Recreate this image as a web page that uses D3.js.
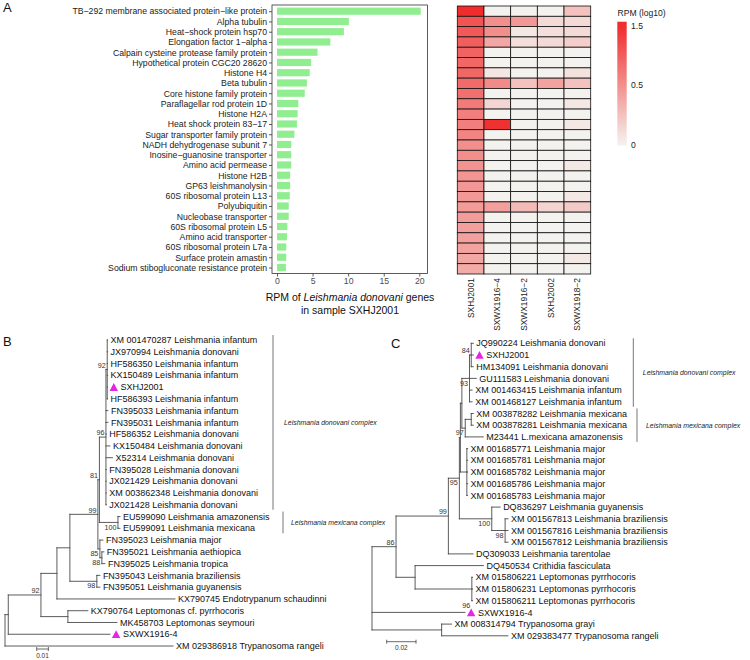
<!DOCTYPE html>
<html><head><meta charset="utf-8">
<script src="https://cdn.jsdelivr.net/npm/d3@7"></script>
<style>
body{margin:0;background:#fff;}
svg{display:block;font-family:"Liberation Sans",Arial,sans-serif;}
</style>
</head><body>
<svg id="fig" width="750" height="660"></svg>
<script>
// ---------------- DATA ----------------
const genes = ["TB−292 membrane associated protein−like protein","Alpha tubulin","Heat−shock protein hsp70","Elongation factor 1−alpha","Calpain cysteine protease family protein","Hypothetical protein CGC20 28620","Histone H4","Beta tubulin","Core histone family protein","Paraflagellar rod protein 1D","Histone H2A","Heat shock protein 83−17","Sugar transporter family protein","NADH dehydrogenase subunit 7","Inosine−guanosine transporter","Amino acid permease","Histone H2B","GP63 leishmanolysin","60S ribosomal protein L13","Polyubiquitin","Nucleobase transporter","60S ribosomal protein L5","Amino acid transporter","60S ribosomal protein L7a","Surface protein amastin","Sodium stibogluconate resistance protein"];
const rpm = [20.2,10.1,9.4,7.5,5.7,4.8,4.6,4.2,3.9,3.0,2.9,2.8,2.45,2.0,2.0,2.0,1.85,1.85,1.8,1.65,1.65,1.45,1.4,1.3,1.3,1.25];
const xTicks = [0,5,10,15,20];
const samples = ["SXHJ2001","SXWX1916−4","SXWX1916−2","SXHJ2002","SXWX1918−2"];
const heatSXHJ2001  = [1.5,1.1,1.06,1.0,0.94,0.9,0.9,0.86,0.82,0.7,0.66,0.66,0.6,0.5,0.5,0.48,0.47,0.46,0.45,0.44,0.43,0.42,0.41,0.4,0.38,0.36];
const heatSXWX19164 = [0,0.5,0.5,0.38,0,0,0.06,0.55,0,0.14,0,1.45,0,0,0,0,0,0,0,0.42,0,0,0,0,0,0];
const heatSXWX19162 = [0,0.45,0.05,0.1,0,0,0,0.25,0,0,0,0,0,0,0,0,0,0,0,0.28,0,0,0,0,0,0];
const heatSXHJ2002  = [0,0.12,0.1,0.12,0,0,0,0.4,0,0,0,0,0,0,0,0,0,0,0,0.15,0,0,0,0,0,0];
const heatSXWX19182 = [0.25,0.12,0.12,0.18,0,0,0.08,0.25,0,0.05,0,0.05,0,0,0,0.05,0,0,0.05,0.2,0,0,0,0,0.05,0];
const legendTicks = [0,0.5,1.5];

// Tree B (newick pieces, branch lengths in substitutions/site)
const nB92i = "(XM_001470287_Leishmania_infantum:0.0003,JX970994_Leishmania_donovani:0.0003,HF586350_Leishmania_infantum:0.0003,KX150489_Leishmania_infantum:0.0003,SXHJ2001:0.0003,HF586393_Leishmania_infantum:0.0003)92:0.0011";
const nB96 = `(${nB92i},FN395033_Leishmania_infantum:0.0017,FN395031_Leishmania_infantum:0.0017,HF586352_Leishmania_donovani:0.0003,KX150484_Leishmania_donovani:0.0034,X52314_Leishmania_donovani:0.0056,FN395028_Leishmania_donovani:0.0003,JX021429_Leishmania_donovani:0.0003,XM_003862348_Leishmania_donovani:0.0003,JX021428_Leishmania_donovani:0.0003)96:0.0056`;
const nB81 = `(${nB96},(EU599090_Leishmania_amazonensis:0.0017,EU599091_Leishmania_mexicana:0.0017)100:0.0159)81:0.0013`;
const nB99 = `(${nB81},(FN395023_Leishmania_major:0.0026,(FN395021_Leishmania_aethiopica:0.0017,FN395025_Leishmania_tropica:0.0026)88:0.0017)85:0.0017)99:0.024`;
const nB70 = `(${nB99},(FN395043_Leishmania_braziliensis:0.0026,FN395051_Leishmania_guyanensis:0.0026)98:0.0231):0.0111`;
const nBb = `(${nB70},KX790745_Endotrypanum_schaudinni:0.1011):0.0137`;
const nB92o = `(${nBb},(KX790764_Leptomonas_cf._pyrrhocoris:0.0171,MK458703_Leptomonas_seymouri:0.042):0.0231)92:0.028`;
const treeB = `((${nB92o},SXWX1916-4:0.0871):0.0028,XM_029386918_Trypanosoma_rangeli:0.144)`;

// Tree C
const nC84 = "(JQ990224_Leishmania_donovani:0.0014,SXHJ2001:0.0014,HM134091_Leishmania_donovani:0.0014)84:0.0012";
const nC93 = `(${nC84},GU111583_Leishmania_donovani:0.0046,XM_001463415_Leishmania_infantum:0.0018,XM_001468127_Leishmania_infantum:0.0018)93:0.0052`;
const nC97 = "((XM_003878282_Leishmania_mexicana:0.0014,XM_003878281_Leishmania_mexicana:0.0014):0.0041,M23441_L.mexicana_amazonensis:0.0123)97:0.0023";
const nCmaj = "(XM_001685771_Leishmania_major:0.0005,XM_001685781_Leishmania_major:0.0005,XM_001685782_Leishmania_major:0.0005,XM_001685786_Leishmania_major:0.0005,XM_001685783_Leishmania_major:0.0005):0.0044";
const nC100 = "(DQ836297_Leishmania_guyanensis:0.0057,(XM_001567813_Leishmania_braziliensis:0.002,XM_001567816_Leishmania_braziliensis:0.002,XM_001567812_Leishmania_braziliensis:0.002)98:0.0091)100:0.0221";
const nC95 = `(((${nC93},${nC97}):0.001,${nCmaj}):0.0007,${nC100})95:0.0075`;
const nC99 = `(${nC95},DQ309033_Leishmania_tarentolae:0.0168)99:0.0357`;
const nC86 = `(${nC99},(DQ450534_Crithidia_fasciculata:0.0466,(XM_015806221_Leptomonas_pyrrhocoris:0.0005,XM_015806231_Leptomonas_pyrrhocoris:0.0005,XM_015806211_Leptomonas_pyrrhocoris:0.0005)96:0.0387):0.013)86:0.0164`;
const treeC = `(${nC86},SXWX1916-4:0.0634,(XM_008314794_Trypanosoma_grayi:0.0068,XM_029383477_Trypanosoma_rangeli:0.0452):0.0475)`;

const markedLeaves = ["SXHJ2001","SXWX1916-4"];
const cladesB = [{first:0,last:14,label:"Leishmania donovani complex"},{first:15,last:16,label:"Leishmania mexicana complex"}];
const cladesC = [{first:0,last:5,label:"Leishmania donovani complex"},{first:6,last:8,label:"Leishmania mexicana complex"}];
const scaleBarB = 0.01, scaleBarC = 0.02;

// ---------------- DRAW ----------------
const svg = d3.select("#fig");
const ink = "#333", txt = "#4d4d4d";

function panelLetter(t,x,y){ svg.append("text").attr("x",x).attr("y",y).attr("font-size",13).attr("fill","#111").text(t); }
panelLetter("A",3,12); panelLetter("B",3,345.5); panelLetter("C",391,348);

// ---- Bar chart ----
const gA = svg.append("g");
const yBar = d3.scalePoint().domain(genes).range([11.2,267.5]);
const xBar = d3.scaleLinear().domain([0,20]).range([277,419.3]);
const frame = {x0:272,x1:427.5,y0:5,y1:273.5};
gA.selectAll("rect.bar").data(genes).join("rect").attr("class","bar")
  .attr("x",xBar(0)).attr("y",d=>yBar(d)-3.6).attr("height",7.2)
  .attr("width",(d,i)=>xBar(rpm[i])-xBar(0)).attr("fill","#90EE90");
gA.append("rect").attr("x",frame.x0).attr("y",frame.y0).attr("width",frame.x1-frame.x0).attr("height",frame.y1-frame.y0)
  .attr("fill","none").attr("stroke",ink).attr("stroke-width",0.8);
const yAx = gA.append("g").attr("transform",`translate(${frame.x0},0)`).call(d3.axisLeft(yBar).tickSize(3).tickPadding(2));
const xAx = gA.append("g").attr("transform",`translate(0,${frame.y1})`).call(d3.axisBottom(xBar).tickValues(xTicks).tickSize(3).tickPadding(1.5));
[yAx,xAx].forEach(a=>{a.select(".domain").remove(); a.selectAll("line").attr("stroke",ink).attr("stroke-width",0.8);
  a.selectAll("text").attr("font-size",8.7).attr("fill",txt).attr("font-family","Liberation Sans, Arial, sans-serif");});
yAx.selectAll("text").attr("fill","#222");
const title = gA.append("text").attr("x",350).attr("y",301).attr("text-anchor","middle").attr("font-size",10.5).attr("fill","#111");
title.append("tspan").text("RPM of ");
title.append("tspan").attr("font-style","italic").text("Leishmania donovani");
title.append("tspan").text(" genes");
gA.append("text").attr("x",350).attr("y",314).attr("text-anchor","middle").attr("font-size",10.5).attr("fill","#111").text("in sample SXHJ2001");

// ---- Heatmap ----
const heatCols = [heatSXHJ2001,heatSXWX19164,heatSXWX19162,heatSXHJ2002,heatSXWX19182];
const xHeat = d3.scaleBand().domain(samples).range([457.3,590.7]);
const yHeat = d3.scaleBand().domain(genes).range([6,274]);
const lowC = "#F4F2EE", highC = "#F02C2C";
const tScale = d3.scaleLinear().domain([0,0.5,1.5]).range([0,0.5,1]).clamp(true);
const heatColor = v => d3.interpolateRgb(lowC,highC)(tScale(v));
const cells = [];
samples.forEach((s,j)=>genes.forEach((g,i)=>cells.push({s,g,v:heatCols[j][i]})));
svg.append("g").selectAll("rect").data(cells).join("rect")
  .attr("x",d=>xHeat(d.s)).attr("y",d=>yHeat(d.g)).attr("width",xHeat.bandwidth()).attr("height",yHeat.bandwidth())
  .attr("fill",d=>heatColor(d.v)).attr("stroke","#111").attr("stroke-width",0.8);
svg.append("g").selectAll("text").data(samples).join("text")
  .attr("transform",d=>`translate(${xHeat(d)+xHeat.bandwidth()/2+3},278) rotate(-90)`)
  .attr("text-anchor","end").attr("font-size",8.4).attr("fill","#222").text(d=>d);

// legend
const yLeg = d3.scaleLinear().domain([0,0.5,1.5]).range([144.5,85,25.5]);
const legTop = 21.7, legBot = 145.5;
const grad = svg.append("defs").append("linearGradient").attr("id","lg").attr("x1",0).attr("y1",1).attr("x2",0).attr("y2",0);
d3.range(0,1.0001,0.05).forEach(f=>{ const y = legBot - f*(legBot-legTop);
  grad.append("stop").attr("offset",f).attr("stop-color",heatColor(Math.max(0,yLeg.invert(y)))); });
svg.append("text").attr("x",617.5).attr("y",16).attr("font-size",8.6).attr("fill","#222").text("RPM (log10)");
svg.append("rect").attr("x",617.3).attr("y",legTop).attr("width",9.4).attr("height",legBot-legTop).attr("fill","url(#lg)");
svg.append("g").selectAll("text").data(legendTicks).join("text").attr("x",631).attr("y",d=>yLeg(d)).attr("dy","0.35em")
  .attr("font-size",8.6).attr("fill","#222").text(d=>d);

// ---- Trees ----
function parseNewick(s){
  let i=0;
  function node(){
    const n={children:[]};
    if(s[i]==='('){ i++; n.children.push(node()); while(s[i]===','){ i++; n.children.push(node()); } i++; }
    let name=''; while(i<s.length && !':,()'.includes(s[i])) name+=s[i++];
    n.name=name.replace(/_/g,' ');
    n.length=0;
    if(s[i]===':'){ i++; let num=''; while(i<s.length && !',)'.includes(s[i])) num+=s[i++]; n.length=+num; }
    return n;
  }
  return node();
}

function drawTree(newick, opt){
  const root = d3.hierarchy(parseNewick(newick), d=>d.children.length?d.children:null);
  root.eachBefore(d=>{ d.dist = d.parent ? d.parent.dist + d.data.length : 0; });
  const leaves = root.leaves();
  const x = d3.scaleLinear().domain([0,0.1]).range([opt.x0, opt.x0+opt.pxPerUnit*0.1]);
  const y = d3.scaleLinear().domain([0,leaves.length-1]).range([opt.y0, opt.y0+opt.step*(leaves.length-1)]);
  leaves.forEach((l,i)=>l.yy=y(i));
  root.eachAfter(d=>{ if(d.children){ d.yy=(d.children[0].yy + d.children[d.children.length-1].yy)/2; } });
  const g = svg.append("g");
  const lines = [];
  root.each(d=>{
    if(d.parent) lines.push([x(d.parent.dist),d.yy,x(d.dist),d.yy]);
    if(d.children) lines.push([x(d.dist),d.children[0].yy,x(d.dist),d.children[d.children.length-1].yy]);
  });
  g.selectAll("line.br").data(lines).join("line").attr("class","br")
    .attr("x1",d=>d[0]).attr("y1",d=>d[1]).attr("x2",d=>d[2]).attr("y2",d=>d[3])
    .attr("stroke","#4a4a4a").attr("stroke-width",0.9).attr("stroke-linecap","square");
  leaves.forEach(l=>{
    const ex = x(l.dist);
    let tx = ex+3;
    if(markedLeaves.includes(l.data.name)){
      g.append("path").attr("d",`M${ex+2},${l.yy+3.8}L${ex+6.2},${l.yy-4}L${ex+10.4},${l.yy+3.8}Z`).attr("fill","#E524E6");
      tx = ex+13;
    }
    g.append("text").attr("x",tx).attr("y",l.yy).attr("dy","0.35em").attr("font-size",9).attr("fill","#111").text(l.data.name);
  });
  root.descendants().filter(d=>d.children && d.data.name).forEach(d=>{
    const p = opt.place[d.data.name] || "above";
    let ty = d.yy-1.8, tx = x(d.dist)-1.5;
    if(p==="below") ty = d.yy+7.2;
    if(p==="left"){ ty = d.yy+2.5; tx = x(d.dist)-2; }
    if(p==="bottom") ty = d.children[d.children.length-1].yy+7.5;
    g.append("text").attr("x",tx).attr("y",ty).attr("text-anchor","end").attr("font-size",7.2).attr("fill","#333").text(d.data.name);
  });
  // clade brackets
  opt.clades.forEach((c,k)=>{
    const yA = leaves[c.first].yy-5, yB2 = leaves[c.last].yy+5;
    g.append("line").attr("x1",opt.bracketX[k]).attr("x2",opt.bracketX[k]).attr("y1",yA).attr("y2",yB2).attr("stroke","#777").attr("stroke-width",1);
    g.append("text").attr("x",opt.bracketX[k]+opt.labelGap[k]).attr("y",(yA+yB2)/2).attr("dy","0.35em").attr("font-size",6.9)
      .attr("font-style","italic").attr("fill","#222").text(c.label);
  });
  // scale bar
  const sbx = opt.sb[0], sby = opt.sb[1], sbw = x(opt.sbLen)-x(0);
  g.append("path").attr("d",`M${sbx},${sby-2}V${sby+2}M${sbx},${sby}H${sbx+sbw}M${sbx+sbw},${sby-2}V${sby+2}`).attr("stroke","#444").attr("fill","none").attr("stroke-width",0.8);
  g.append("text").attr("x",sbx+sbw/2).attr("y",sby+8.5).attr("text-anchor","middle").attr("font-size",6.5).attr("fill","#333").text(opt.sbLen);
}

drawTree(treeB,{x0:5,pxPerUnit:1167,y0:340,step:11.77,clades:cladesB,bracketX:[273,283],labelGap:[11,8],
  sb:[36.7,649],sbLen:scaleBarB,
  place:{"100":"below","85":"below","88":"below","98":"below"}});
drawTree(treeC,{x0:372,pxPerUnit:1466,y0:343.3,step:11.7,clades:cladesC,bracketX:[633.3,637],labelGap:[9.5,9],
  sb:[386.7,641.7],sbLen:scaleBarC,
  place:{"93":"below","97":"below","100":"below","98":"below","96":"bottom","95":"below"}});
</script>
</body></html>
